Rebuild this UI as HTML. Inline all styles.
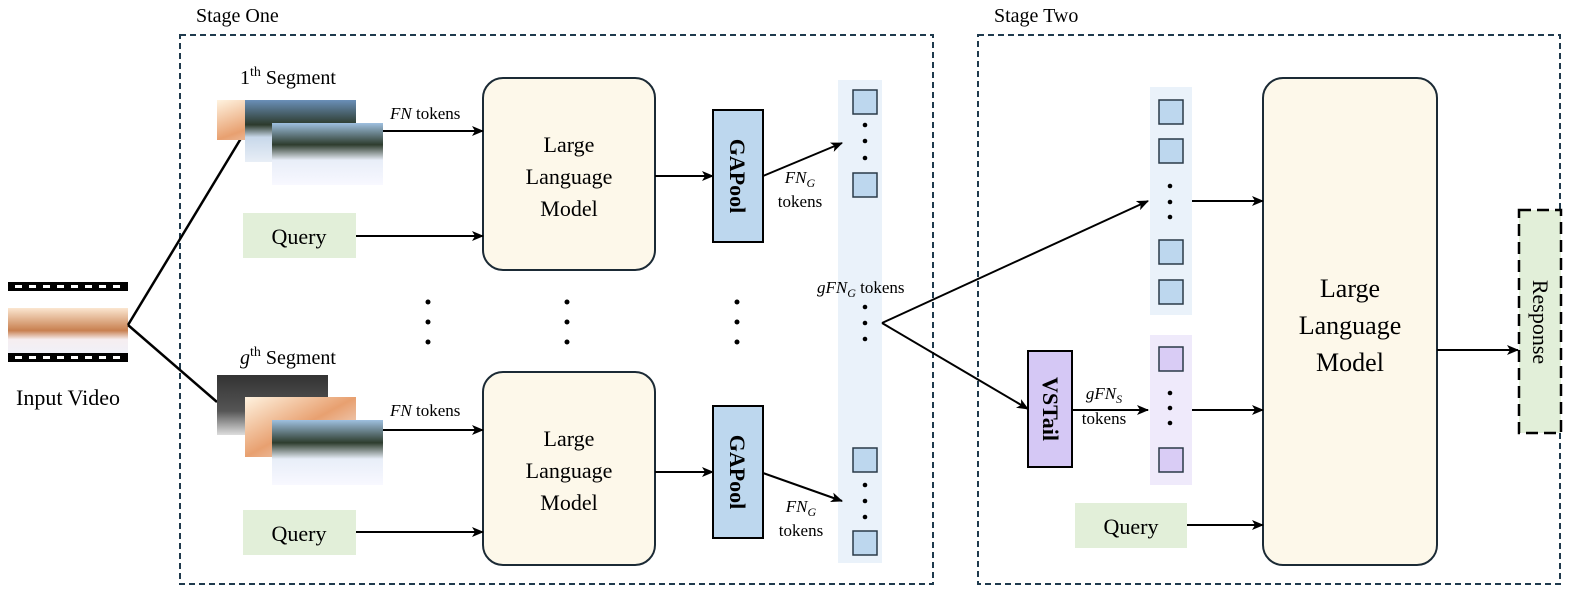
<!DOCTYPE html>
<html><head><meta charset="utf-8"><style>
html,body{margin:0;padding:0;background:#fff;}
svg{display:block;font-family:"Liberation Serif",serif;}
</style></head><body>
<svg width="1578" height="594" viewBox="0 0 1578 594" xmlns="http://www.w3.org/2000/svg">
<defs>
<marker id="ah" markerWidth="12" markerHeight="10" refX="11" refY="5" orient="auto" markerUnits="userSpaceOnUse">
<path d="M0,0 L12,5 L0,10 L3,5 z" fill="#000"/></marker>
<linearGradient id="sun" x1="0" y1="0" x2="1" y2="1"><stop offset="0" stop-color="#fff3e0"/><stop offset="0.5" stop-color="#e8a070"/><stop offset="1" stop-color="#f4f4f8"/></linearGradient>
<linearGradient id="lake" x1="0" y1="0" x2="0" y2="1"><stop offset="0" stop-color="#6a8fb8"/><stop offset="0.4" stop-color="#2c3a2c"/><stop offset="0.6" stop-color="#c8d8ea"/><stop offset="1" stop-color="#e8eef6"/></linearGradient>
<linearGradient id="dark" x1="0" y1="0" x2="0" y2="1"><stop offset="0" stop-color="#333"/><stop offset="0.6" stop-color="#555"/><stop offset="1" stop-color="#ddd"/></linearGradient>
<linearGradient id="snow" x1="0" y1="0" x2="0" y2="1"><stop offset="0" stop-color="#9fc0e0"/><stop offset="0.35" stop-color="#2e3d2e"/><stop offset="0.6" stop-color="#e8eef8"/><stop offset="1" stop-color="#f8f8ff"/></linearGradient>
<linearGradient id="vid" x1="0" y1="0" x2="0" y2="1"><stop offset="0" stop-color="#fbe6d0"/><stop offset="0.5" stop-color="#c88050"/><stop offset="0.7" stop-color="#f6eef0"/><stop offset="1" stop-color="#f0f0f8"/></linearGradient>
</defs>

<rect x="180" y="35" width="753" height="549" fill="none" stroke="#1f3a4d" stroke-width="2" stroke-dasharray="6,4"/>
<rect x="978" y="35" width="582" height="549" fill="none" stroke="#1f3a4d" stroke-width="2" stroke-dasharray="6,4"/>
<text x="196" y="22" font-size="20">Stage One</text>
<text x="994" y="22" font-size="20">Stage Two</text>

<rect x="8" y="282" width="120" height="9" fill="#000"/>
<rect x="8" y="353" width="120" height="9" fill="#000"/>
<g fill="#fff">
<rect x="15" y="285" width="7" height="3"/><rect x="29" y="285" width="7" height="3"/><rect x="43" y="285" width="7" height="3"/><rect x="57" y="285" width="7" height="3"/><rect x="71" y="285" width="7" height="3"/><rect x="85" y="285" width="7" height="3"/><rect x="99" y="285" width="7" height="3"/><rect x="113" y="285" width="7" height="3"/>
<rect x="15" y="356" width="7" height="3"/><rect x="29" y="356" width="7" height="3"/><rect x="43" y="356" width="7" height="3"/><rect x="57" y="356" width="7" height="3"/><rect x="71" y="356" width="7" height="3"/><rect x="85" y="356" width="7" height="3"/><rect x="99" y="356" width="7" height="3"/><rect x="113" y="356" width="7" height="3"/>
</g>
<rect x="8" y="308" width="120" height="45" fill="url(#vid)"/>
<text x="68" y="405" font-size="22" text-anchor="middle">Input Video</text>

<g stroke="#000" stroke-width="2.5" fill="none">
<line x1="128" y1="325" x2="243" y2="135"/>
<line x1="128" y1="325" x2="217" y2="402"/>
</g>

<text x="240" y="84" font-size="20">1<tspan font-size="14" dy="-8">th</tspan><tspan dy="8"> Segment</tspan></text>
<rect x="217" y="100" width="110" height="40" fill="url(#sun)"/>
<rect x="245" y="100" width="111" height="62" fill="url(#lake)"/>
<rect x="272" y="123" width="111" height="62" fill="url(#snow)"/>
<text x="390" y="119" font-size="17"><tspan font-style="italic">FN</tspan> tokens</text>

<text x="240" y="364" font-size="20"><tspan font-style="italic">g</tspan><tspan font-size="14" dy="-8">th</tspan><tspan dy="8"> Segment</tspan></text>
<rect x="217" y="375" width="111" height="60" fill="url(#dark)"/>
<rect x="245" y="397" width="111" height="60" fill="url(#sun)"/>
<rect x="272" y="420" width="111" height="65" fill="url(#snow)"/>
<text x="390" y="416" font-size="17"><tspan font-style="italic">FN</tspan> tokens</text>

<rect x="243" y="213" width="113" height="45" fill="#e2efd9"/>
<text x="299" y="244" font-size="22" text-anchor="middle">Query</text>
<rect x="243" y="510" width="113" height="45" fill="#e2efd9"/>
<text x="299" y="541" font-size="22" text-anchor="middle">Query</text>
<rect x="1075" y="503" width="112" height="45" fill="#e2efd9"/>
<text x="1131" y="534" font-size="22" text-anchor="middle">Query</text>

<g fill="#fdf8ea" stroke="#1b2a35" stroke-width="2">
<rect x="483" y="78" width="172" height="192" rx="20"/>
<rect x="483" y="372" width="172" height="193" rx="20"/>
<rect x="1263" y="78" width="174" height="487" rx="20"/>
</g>
<g font-size="22" text-anchor="middle">
<text x="569" y="152">Large</text><text x="569" y="184">Language</text><text x="569" y="216">Model</text>
<text x="569" y="446">Large</text><text x="569" y="478">Language</text><text x="569" y="510">Model</text>
</g>
<g font-size="26" text-anchor="middle">
<text x="1350" y="297">Large</text><text x="1350" y="334">Language</text><text x="1350" y="371">Model</text>
</g>

<rect x="713" y="110" width="50" height="132" fill="#bdd7ee" stroke="#000" stroke-width="2"/>
<text transform="translate(730,176) rotate(90)" font-size="22" font-weight="bold" text-anchor="middle">GAPool</text>
<rect x="713" y="406" width="50" height="132" fill="#bdd7ee" stroke="#000" stroke-width="2"/>
<text transform="translate(730,472) rotate(90)" font-size="22" font-weight="bold" text-anchor="middle">GAPool</text>

<rect x="1028" y="351" width="44" height="116" fill="#d5c8f5" stroke="#000" stroke-width="2"/>
<text transform="translate(1043,409) rotate(90)" font-size="22" font-weight="bold" text-anchor="middle">VSTail</text>

<rect x="838" y="80" width="44" height="483" fill="#eaf2fa"/>
<rect x="1150" y="87" width="42" height="228" fill="#eaf2fa"/>
<rect x="1150" y="335" width="42" height="150" fill="#efeafb"/>
<g fill="#bdd7ee" stroke="#2a3a48" stroke-width="1.5">
<rect x="853" y="90" width="24" height="24"/><rect x="853" y="173" width="24" height="24"/>
<rect x="853" y="448" width="24" height="24"/><rect x="853" y="531" width="24" height="24"/>
<rect x="1159" y="100" width="24" height="24"/><rect x="1159" y="139" width="24" height="24"/>
<rect x="1159" y="240" width="24" height="24"/><rect x="1159" y="280" width="24" height="24"/>
</g>
<g fill="#d9ccf5" stroke="#2a3a48" stroke-width="1.5">
<rect x="1159" y="347" width="24" height="24"/><rect x="1159" y="448" width="24" height="24"/>
</g>
<g fill="#000">
<circle cx="865" cy="125" r="2.3"/><circle cx="865" cy="141" r="2.3"/><circle cx="865" cy="158" r="2.3"/>
<circle cx="865" cy="307" r="2.3"/><circle cx="865" cy="323" r="2.3"/><circle cx="865" cy="339" r="2.3"/>
<circle cx="865" cy="485" r="2.3"/><circle cx="865" cy="501" r="2.3"/><circle cx="865" cy="517" r="2.3"/>
<circle cx="1170" cy="186" r="2.3"/><circle cx="1170" cy="202" r="2.3"/><circle cx="1170" cy="217" r="2.3"/>
<circle cx="1170" cy="393" r="2.3"/><circle cx="1170" cy="408" r="2.3"/><circle cx="1170" cy="423" r="2.3"/>
<circle cx="428" cy="302" r="2.5"/><circle cx="428" cy="322" r="2.5"/><circle cx="428" cy="342" r="2.5"/>
<circle cx="567" cy="302" r="2.5"/><circle cx="567" cy="322" r="2.5"/><circle cx="567" cy="342" r="2.5"/>
<circle cx="737" cy="302" r="2.5"/><circle cx="737" cy="322" r="2.5"/><circle cx="737" cy="342" r="2.5"/>
</g>

<g font-size="17" text-anchor="middle">
<text x="800" y="183"><tspan font-style="italic">FN</tspan><tspan font-style="italic" font-size="12" dy="4">G</tspan></text>
<text x="800" y="207">tokens</text>
<text x="801" y="512"><tspan font-style="italic">FN</tspan><tspan font-style="italic" font-size="12" dy="4">G</tspan></text>
<text x="801" y="536">tokens</text>
<text x="1104" y="399"><tspan font-style="italic">gFN</tspan><tspan font-style="italic" font-size="12" dy="4">S</tspan></text>
<text x="1104" y="424">tokens</text>
</g>
<text x="817" y="293" font-size="17"><tspan font-style="italic">gFN</tspan><tspan font-style="italic" font-size="12" dy="4">G</tspan><tspan dy="-4"> tokens</tspan></text>

<g stroke="#000" stroke-width="2" fill="none" marker-end="url(#ah)">
<line x1="383" y1="131" x2="483" y2="131"/>
<line x1="356" y1="236" x2="483" y2="236"/>
<line x1="383" y1="430" x2="483" y2="430"/>
<line x1="356" y1="532" x2="483" y2="532"/>
<line x1="655" y1="176" x2="713" y2="176"/>
<line x1="655" y1="472" x2="713" y2="472"/>
<line x1="763" y1="176" x2="842" y2="143"/>
<line x1="763" y1="473" x2="842" y2="501"/>
<line x1="882" y1="323" x2="1148" y2="201"/>
<line x1="882" y1="323" x2="1028" y2="409"/>
<line x1="1072" y1="410" x2="1148" y2="410"/>
<line x1="1192" y1="201" x2="1263" y2="201"/>
<line x1="1192" y1="410" x2="1263" y2="410"/>
<line x1="1187" y1="525" x2="1263" y2="525"/>
<line x1="1437" y1="350" x2="1518" y2="350"/>
</g>

<rect x="1519" y="210" width="42" height="223" fill="#e2efd9" stroke="#000" stroke-width="2.5" stroke-dasharray="12,6"/>
<text transform="translate(1533,322) rotate(90)" font-size="22" text-anchor="middle">Response</text>
</svg>
</body></html>
